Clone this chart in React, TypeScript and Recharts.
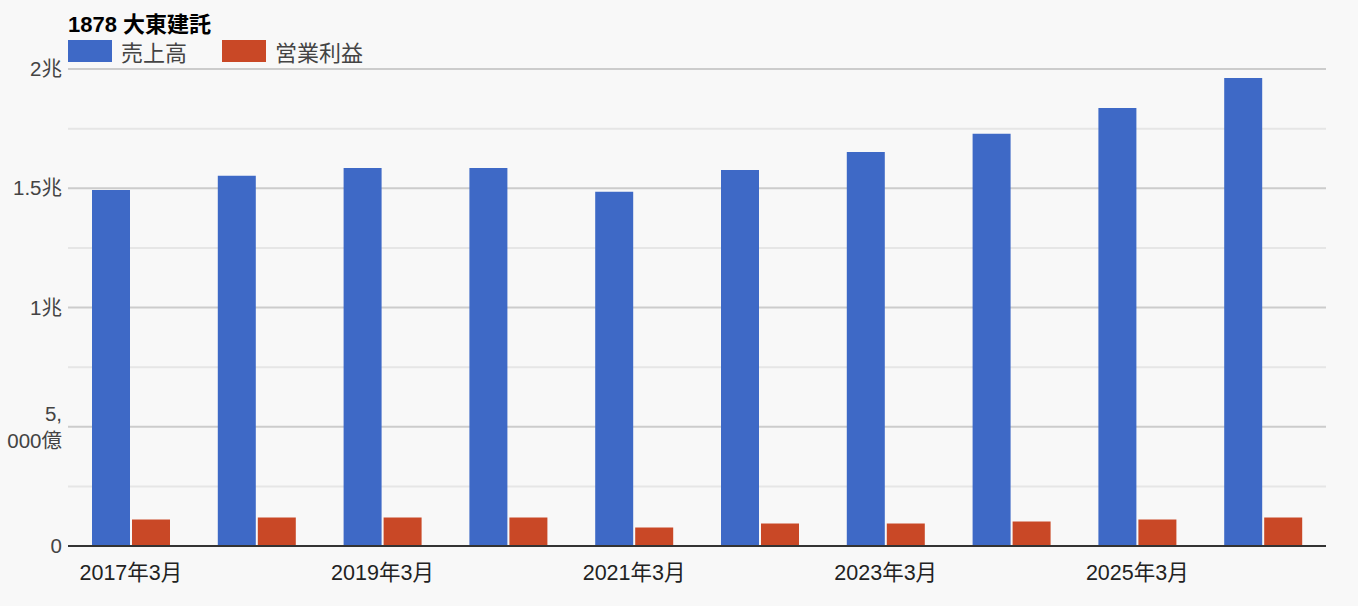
import React from 'react';
import { BarChart, Bar, XAxis, YAxis, CartesianGrid } from 'recharts';

const title = '1878 大東建託';
const seriesNames = ['売上高', '営業利益'];
const categories = ['2017年3月', '2018年3月', '2019年3月', '2020年3月', '2021年3月', '2022年3月', '2023年3月', '2024年3月', '2025年3月', '2026年3月'];
// values in 億円
const sales = [14930, 15520, 15850, 15850, 14850, 15770, 16520, 17280, 18370, 19620];
const operatingIncome = [1110, 1190, 1190, 1190, 775, 942, 942, 1026, 1110, 1190];
const yTicks = [0, 2500, 5000, 7500, 10000, 12500, 15000, 17500, 20000];
const yTickLabels: Record<number, string[]> = {
  0: ['0'],
  5000: ['5,', '000億'],
  10000: ['1兆'],
  15000: ['1.5兆'],
  20000: ['2兆'],
};

const BLUE = '#3e69c6';
const RED = '#c94826';
const FONT = "'Liberation Sans', Arial, 'Noto Sans CJK JP', sans-serif";

const data = categories.map((c, i) => ({ name: c, sales: sales[i], op: operatingIncome[i] }));

const YTick = (props: any) => {
  const { x, y, payload } = props;
  const lines = yTickLabels[payload.value];
  if (!lines) return null;
  if (lines.length === 1) {
    return (
      <text x={x} y={y + 7} textAnchor="end" fill="#444" fontSize={20.5} fontFamily={FONT}>
        {lines[0]}
      </text>
    );
  }
  return (
    <text x={x} y={y} textAnchor="end" fill="#444" fontSize={20.5} fontFamily={FONT}>
      <tspan x={x} y={y - 6}>{lines[0]}</tspan>
      <tspan x={x} y={y + 21}>{lines[1]}</tspan>
    </text>
  );
};

const XTick = (props: any) => {
  const { x, y, payload } = props;
  return (
    <text x={x} y={y + 34} textAnchor="middle" fill="#222" fontSize={21.5} fontFamily={FONT}>
      {payload.value}
    </text>
  );
};

const gridLine = (p: any) => {
  const major = p.index % 2 === 0;
  return (
    <line
      key={p.key}
      x1={p.x1}
      y1={p.y1}
      x2={p.x2}
      y2={p.y2}
      stroke={major ? '#cccccc' : '#e6e6e6'}
      strokeWidth={2}
    />
  );
};

export default function App() {
  return (
    <div style={{ position: 'absolute', left: 0, top: 0, width: 1358, height: 606, background: '#f8f8f8', fontFamily: FONT }}>
      <div style={{ position: 'absolute', left: 68, top: 12, fontSize: 22, fontWeight: 'bold', color: '#000', lineHeight: '26px', whiteSpace: 'nowrap' }}>
        {title}
      </div>
      <div style={{ position: 'absolute', left: 68, top: 40, height: 22, display: 'flex', alignItems: 'center', fontSize: 22, color: '#444', whiteSpace: 'nowrap' }}>
        <div style={{ width: 44, height: 22, background: BLUE }} />
        <div style={{ marginLeft: 9, width: 101 }}>{seriesNames[0]}</div>
        <div style={{ width: 44, height: 22, background: RED }} />
        <div style={{ marginLeft: 9 }}>{seriesNames[1]}</div>
      </div>
      <BarChart
        width={1358}
        height={606}
        data={data}
        margin={{ top: 69, right: 32, bottom: 20, left: 8 }}
        barSize={38}
        barGap={2}
        style={{ position: 'absolute', left: 0, top: 0 }}
      >
        <CartesianGrid vertical={false} horizontal={gridLine} />
        <XAxis
          dataKey="name"
          interval={1}
          tickLine={false}
          tickSize={0}
          tickMargin={0}
          height={40}
          axisLine={{ stroke: '#333', strokeWidth: 2 }}
          tick={<XTick />}
        />
        <YAxis
          width={60}
          domain={[0, 20000]}
          ticks={yTicks}
          interval={0}
          axisLine={false}
          tickLine={false}
          tickSize={0}
          tickMargin={6}
          tick={<YTick />}
        />
        <Bar dataKey="sales" name={seriesNames[0]} fill={BLUE} isAnimationActive={false} />
        <Bar dataKey="op" name={seriesNames[1]} fill={RED} isAnimationActive={false} />
      </BarChart>
    </div>
  );
}
